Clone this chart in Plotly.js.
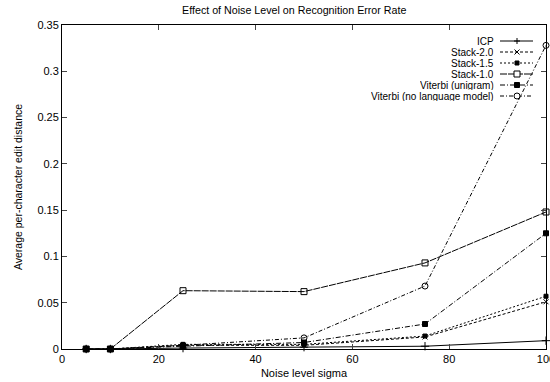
<!DOCTYPE html>
<html><head><meta charset="utf-8">
<script src="https://cdn.plot.ly/plotly-3.0.1.min.js"></script>
<style>html,body{margin:0;padding:0;background:#fff}#chart{width:550px;height:382px}</style>
</head><body><div id="chart"></div>
<script>
const noise = [5, 10, 25, 50, 75, 100];
const icp = [0, 0, 0.001, 0.002, 0.003, 0.009];
const stack20 = [0, 0, 0.004, 0.004, 0.013, 0.051];
const stack15 = [0, 0, 0.005, 0.005, 0.014, 0.057];
const stack10 = [0, 0, 0.063, 0.062, 0.093, 0.148];
const viterbiUni = [0, 0, 0.003, 0.007, 0.027, 0.125];
const viterbiNoLM = [0, 0, 0.004, 0.012, 0.068, 0.328];
const names = ['ICP', 'Stack-2.0', 'Stack-1.5', 'Stack-1.0', 'Viterbi (unigram)', 'Viterbi (no language model)'];
const series = [icp, stack20, stack15, stack10, viterbiUni, viterbiNoLM];
const dashes = ['solid', '3px,2px', '2px,2px', '7px,1px', '5px,2px,1px,2px', '4px,2px,1px,2px'];
const symbols = ['cross-thin-open', 'x-thin-open', 'square', 'square-open', 'square', 'circle-open'];
const sizes = [6, 5, 4, 6, 5, 6];

const traces = series.map((ys, i) => ({
  x: noise, y: ys, name: names[i], type: 'scatter', mode: 'lines+markers',
  line: {color: '#000', width: 1, dash: dashes[i]},
  marker: {symbol: symbols[i], size: sizes[i], color: '#000', line: {color: '#000', width: 1}},
  showlegend: false, cliponaxis: false
}));

const fam = 'Liberation Sans, Arial, sans-serif';
// custom legend: text right-aligned, sample on the right
const L = 62, W = 484, B = 349, H = 324;
const px = p => (p - L) / W, py = p => (B - p) / H;
const rowY = [41, 52, 63, 74, 85, 96];
const annotations = [], shapes = [];
names.forEach((n, i) => {
  const yy = py(rowY[i]);
  annotations.push({xref: 'paper', yref: 'paper', x: px(495), y: yy, xanchor: 'right', yanchor: 'middle',
    height: 10, borderpad: 0,
    text: n, showarrow: false, font: {family: fam, size: 10, color: '#000'}});
  shapes.push({type: 'line', xref: 'paper', yref: 'paper', x0: px(500), x1: px(533), y0: yy, y1: yy,
    line: {color: '#000', width: 1, dash: dashes[i]}});
  const mx = px(517);
  const base = {xref: 'paper', yref: 'paper', xsizemode: 'pixel', ysizemode: 'pixel', xanchor: mx, yanchor: yy};
  const s = sizes[i] / 2;
  if (symbols[i] === 'cross-thin-open') {
    shapes.push(Object.assign({type: 'path', path: `M${-s},0L${s},0M0,${-s}L0,${s}`, line: {color: '#000', width: 1}}, base));
  } else if (symbols[i] === 'x-thin-open') {
    shapes.push(Object.assign({type: 'path', path: `M${-s},${-s}L${s},${s}M${-s},${s}L${s},${-s}`, line: {color: '#000', width: 1}}, base));
  } else if (symbols[i] === 'square') {
    shapes.push(Object.assign({type: 'rect', x0: -s, x1: s, y0: -s, y1: s, fillcolor: '#000', line: {color: '#000', width: 1}}, base));
  } else if (symbols[i] === 'square-open') {
    shapes.push(Object.assign({type: 'rect', x0: -s, x1: s, y0: -s, y1: s, fillcolor: '#fff', line: {color: '#000', width: 1}}, base));
  } else {
    shapes.push(Object.assign({type: 'circle', x0: -s, x1: s, y0: -s, y1: s, fillcolor: '#fff', line: {color: '#000', width: 1}}, base));
  }
});

const font = {family: fam, size: 11, color: '#000'};
const layout = {
  width: 550, height: 382,
  margin: {l: 62, r: 4, t: 25, b: 33},
  paper_bgcolor: '#fff', plot_bgcolor: '#fff',
  font: font,
  title: {text: 'Effect of Noise Level on Recognition Error Rate', font: {family: fam, size: 10.7, color: '#000'},
    x: 0.535, xanchor: 'center', y: 0.972, yanchor: 'middle'},
  xaxis: {range: [0, 100], tickvals: [0, 20, 40, 60, 80, 100], ticks: 'inside', ticklen: 5, mirror: 'ticks',
    showline: true, linecolor: '#000', linewidth: 1, showgrid: false, zeroline: false, automargin: false,
    ticklabeloverflow: 'allow',
    tickfont: font, title: {text: 'Noise level sigma', font: {family: fam, size: 11, color: '#000'}, standoff: 5}},
  yaxis: {range: [0, 0.35], tickvals: [0, 0.05, 0.1, 0.15, 0.2, 0.25, 0.3, 0.35],
    ticktext: ['0', '0.05', '0.1', '0.15', '0.2', '0.25', '0.3', '0.35'],
    ticks: 'inside', ticklen: 5, mirror: 'ticks', automargin: false,
    showline: true, linecolor: '#000', linewidth: 1, showgrid: false, zeroline: false,
    tickfont: font, title: {text: 'Average per-character edit distance', font: {family: fam, size: 10.5, color: '#000'}, standoff: 12}},
  annotations: annotations,
  shapes: shapes,
  showlegend: false
};
Plotly.newPlot('chart', traces, layout, {displayModeBar: false, staticPlot: true});
</script></body></html>
